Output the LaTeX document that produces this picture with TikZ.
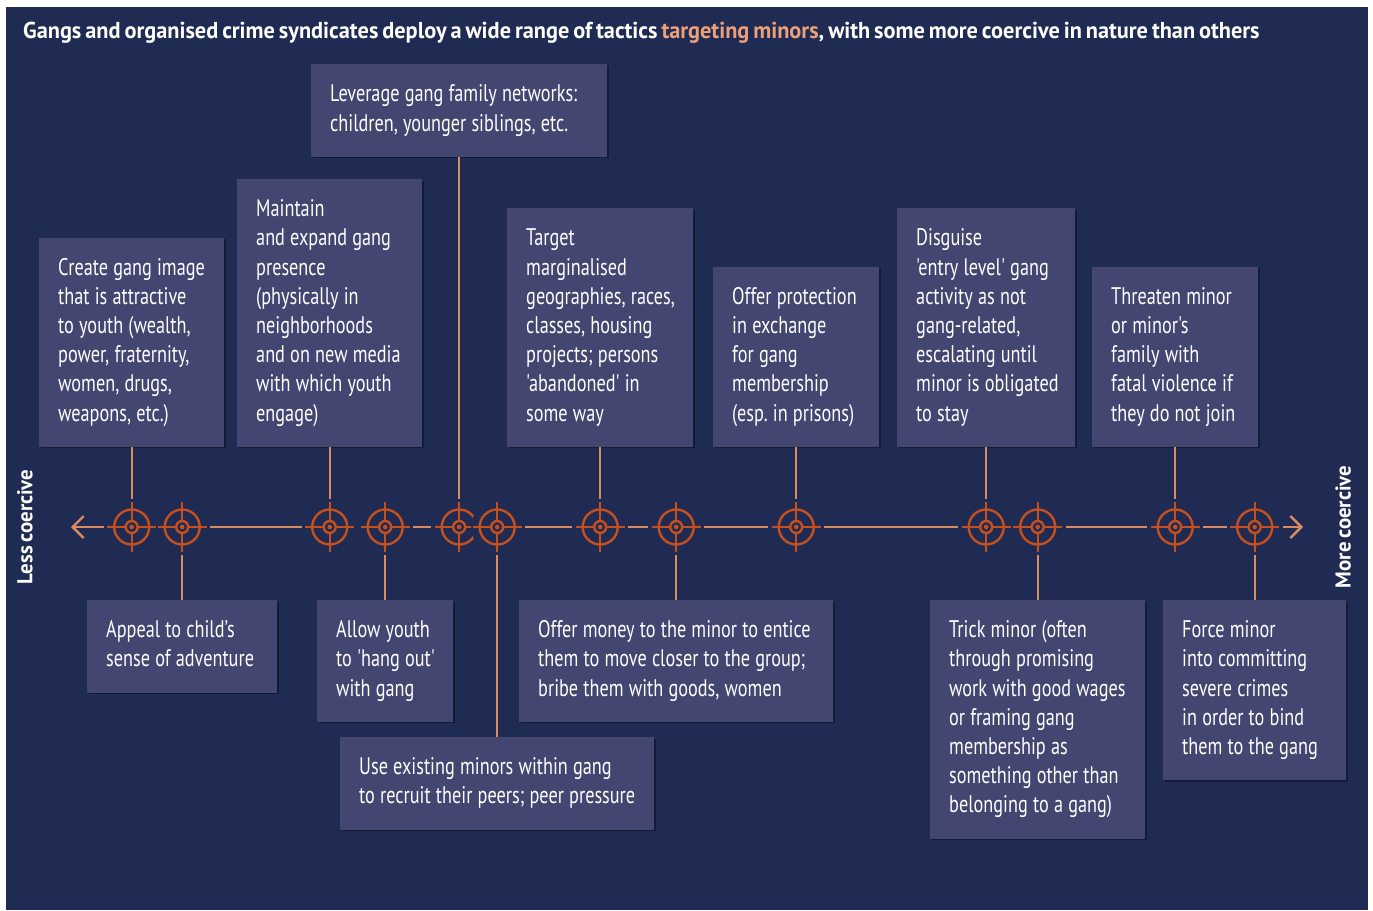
\documentclass[tikz,border=0pt]{standalone}
\usepackage{fontspec}
\setmainfont{PT Sans}[FakeStretch=0.76, Ligatures=TeXOff]
\newfontfamily\headfont{PT Sans}[FakeStretch=0.97, WordSpace=0.7]
\usetikzlibrary{arrows.meta,shadows}

\definecolor{navy}{HTML}{1F2B53}
\definecolor{boxfill}{HTML}{434670}
\definecolor{ringorange}{HTML}{C6501D}
\definecolor{linkorange}{HTML}{D98B62}
\definecolor{accent}{HTML}{EBA079}

\tikzset{
  tactic/.style={fill=boxfill, text=white, inner xsep=19pt, inner ysep=17pt,
    font=\fontsize{24}{29.2}\selectfont,
    drop shadow={shadow xshift=1.5pt, shadow yshift=-1.5pt, opacity=0.35, fill=black},
    execute at begin node={\frenchspacing\rightskip=-12pt plus 1fil\spaceskip=5.2pt plus 1pt\hyphenpenalty=10000\noindent\strut},
    execute at end node=\strut},
  link/.style={linkorange, line width=2.4pt},
  target/.style={circle, minimum size=52pt, inner sep=0pt, outer sep=2pt, fill=navy,
    path picture={
      \coordinate (c) at (path picture bounding box.center);
      \draw[ringorange, line width=2.4pt] (c) circle[radius=17.5pt] (c) circle[radius=6pt];
      \fill[ringorange] (c) circle[radius=2.3pt];
      \draw[ringorange, line width=2.4pt]
        ([xshift=-24.5pt]c) -- ([xshift=-6pt]c) ([xshift=6pt]c) -- ([xshift=24.5pt]c)
        ([yshift=-25pt]c) -- ([yshift=-6pt]c) ([yshift=6pt]c) -- ([yshift=25pt]c);
    }},
  side/.style={rotate=90, text=white, font=\headfont\bfseries\fontsize{21.5}{24}\selectfont}
}

\begin{document}
\begin{tikzpicture}[x=1pt, y=-1pt]

    \useasboundingbox (0,0) rectangle (1373,910);
    \fill[white] (0,0) rectangle (1373,910);
    \fill[navy] (6,7) rectangle (1368,910);

    \node[anchor=base west, text=white, inner sep=0pt, font=\headfont\bfseries\fontsize{23}{26}\selectfont] (title) at (23,38)
      {Gangs and organised crime syndicates deploy a wide range of tactics \textcolor{accent}{targeting minors}, with some more coercive in nature than others};

    \coordinate (axis) at (0,527);
    \coordinate (lessend) at (71,527);
    \coordinate (moreend) at (1303,527);

    % tactics above the line
    \node[tactic, text width=258pt, anchor=south west] (family) at (311,157) {Leverage gang family networks:\\children, younger siblings, etc.};
    \node[tactic, text width=147pt, anchor=south west] (image) at (39,447) {Create gang image\\that is attractive\\to youth (wealth,\\power, fraternity,\\women, drugs,\\weapons, etc.)};
    \node[tactic, text width=147pt, anchor=south west] (presence) at (237,447) {Maintain\\and expand gang\\presence\\(physically in\\neighborhoods\\and on new media\\with which youth\\engage)};
    \node[tactic, text width=148pt, anchor=south west] (margin) at (507,447) {Target\\marginalised\\geographies, races,\\classes, housing\\projects; persons\\'abandoned' in\\some way};
    \node[tactic, text width=128pt, anchor=south west] (protect) at (713,447) {Offer protection\\in exchange\\for gang\\membership\\(esp. in prisons)};
    \node[tactic, text width=140pt, anchor=south west] (disguise) at (897,447) {Disguise\\'entry level' gang\\activity as not\\gang-related,\\escalating until\\minor is obligated\\to stay};
    \node[tactic, text width=128pt, anchor=south west] (threat) at (1092,447) {Threaten minor\\or minor's\\family with\\fatal violence if\\they do not join};

    % tactics below the line
    \node[tactic, text width=152pt, anchor=north west] (adventure) at (87,600) {Appeal to child’s\\sense of adventure};
    \node[tactic, text width=98pt, anchor=north west] (hangout) at (317,600) {Allow youth\\to 'hang out'\\with gang};
    \node[tactic, text width=276pt, anchor=north west] (money) at (519,600) {Offer money to the minor to entice\\them to move closer to the group;\\bribe them with goods, women};
    \node[tactic, text width=276pt, anchor=north west] (peers) at (340,737) {Use existing minors within gang\\to recruit their peers; peer pressure};
    \node[tactic, text width=177pt, anchor=north west] (trick) at (930,600) {Trick minor (often\\through promising\\work with good wages\\or framing gang\\membership as\\something other than\\belonging to a gang)};
    \node[tactic, text width=145pt, anchor=north west] (force) at (1163,600) {Force minor\\into committing\\severe crimes\\in order to bind\\them to the gang};

    % targets on the scale
    \node[target] (t1) at (image.south |- axis) {};
    \node[target] (t2) at (adventure.north |- axis) {};
    \node[target] (t3) at (presence.south |- axis) {};
    \node[target] (t4) at (hangout.north |- axis) {};
    \node[target] (t5) at (family.south |- axis) {};
    \node[target] (t6) at (peers.north |- axis) {};
    \node[target] (t7) at (margin.south |- axis) {};
    \node[target] (t8) at (money.north |- axis) {};
    \node[target] (t9) at (protect.south |- axis) {};
    \node[target] (t10) at (disguise.south |- axis) {};
    \node[target] (t11) at (trick.north |- axis) {};
    \node[target] (t12) at (threat.south |- axis) {};
    \node[target] (t13) at (force.north |- axis) {};

    \foreach \a/\b in {t2/t3, t4/t5, t6/t7, t7/t8, t8/t9, t9/t10, t11/t12, t12/t13}
      \draw[link] (\a) -- (\b);
    \draw[link, -{Straight Barb[length=11pt, width=22pt]}] (t1) -- (lessend);
    \draw[link, -{Straight Barb[length=11pt, width=22pt]}] (t13) -- (moreend);

    \foreach \tac/\tgt in {image/t1, adventure/t2, presence/t3, hangout/t4, family/t5, peers/t6, margin/t7,
      money/t8, protect/t9, disguise/t10, trick/t11, threat/t12, force/t13}
      \draw[link] (\tac) -- (\tgt);

    \node[side] (less) at (25,527) {Less coercive};
    \node[side] (more) at (1343,527) {More coercive};
\end{tikzpicture}
\end{document}
